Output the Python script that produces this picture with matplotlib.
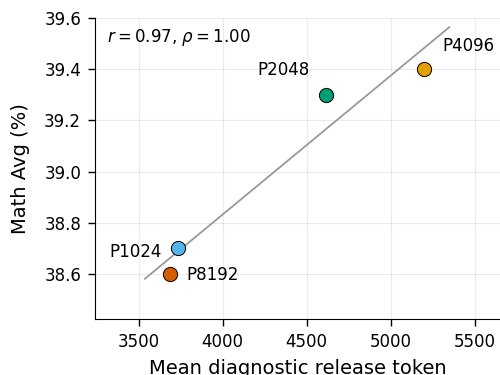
import numpy as np
import matplotlib
matplotlib.use("Agg")
import matplotlib.pyplot as plt

names = ["P1024", "P2048", "P4096", "P8192"]
tokens = [3734, 4615, 5198, 3688]
math_avg = [38.7, 39.3, 39.4, 38.6]
colors = ["#56B4E9", "#009E73", "#E69F00", "#D55E00"]
offsets = [(-12, -2.5), (-12, 18), (13, 17), (11.5, -1)]
aligns = ["right", "right", "left", "left"]

fig = plt.figure(figsize=(5, 3.75), dpi=100)
ax = fig.add_axes([0.19, 0.1493, 0.81, 0.8027])

x = np.array(tokens, dtype=float)
y = np.array(math_avg)
slope, intercept = np.polyfit(x, y, 1)
span = x.max() - x.min()
xs = np.array([x.min() - 0.1 * span, x.max() + 0.1 * span])
ax.plot(xs, slope * xs + intercept, color="#999999", lw=1.3, zorder=2)

for name, xi, yi, c, off, ha in zip(names, tokens, math_avg, colors, offsets, aligns):
    ax.scatter(xi, yi, s=105, color=c, edgecolor="black", linewidth=0.7, zorder=3)
    ax.annotate(name, (xi, yi), textcoords="offset points", xytext=off,
                ha=ha, va="center", fontsize=12)

r = np.corrcoef(x, y)[0, 1]
rho = np.corrcoef(np.argsort(np.argsort(x)), np.argsort(np.argsort(y)))[0, 1]
ax.text(0.03, 0.934, f"$r = {r:.2f}$, $\\rho = {rho:.2f}$", transform=ax.transAxes,
        fontsize=12, va="center")

ax.set_xlim(3240, 5650)
ax.set_ylim(38.424, 39.6)
ax.set_xticks([3500, 4000, 4500, 5000, 5500])
ax.set_yticks([38.6, 38.8, 39.0, 39.2, 39.4, 39.6])
ax.set_xlabel("Mean diagnostic release token", fontsize=14, labelpad=6)
ax.set_ylabel("Math Avg (%)", fontsize=14, labelpad=10)
ax.tick_params(labelsize=12, length=5, pad=5, width=1)
ax.grid(True, alpha=0.25)
ax.spines["top"].set_visible(False)
ax.spines["right"].set_visible(False)

fig.savefig("out.png", dpi=100)
